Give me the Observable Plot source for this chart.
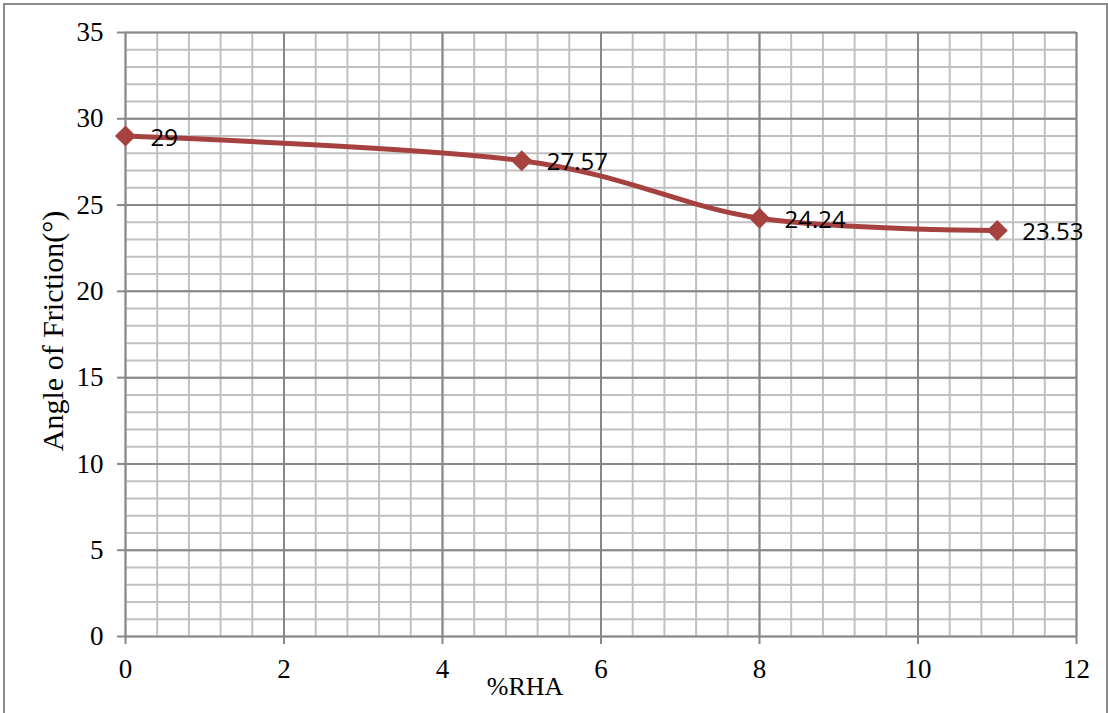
<!DOCTYPE html>
<html>
<head>
<meta charset="utf-8">
<script src="https://cdn.jsdelivr.net/npm/d3@7"></script>
<script src="https://cdn.jsdelivr.net/npm/@observablehq/plot@0.6"></script>
<style>
  body { margin: 0; background: #fff; }
  svg { display: block; }
</style>
</head>
<body>
<div id="chart"></div>
<script>
// Angle of friction against rice husk ash content
const rhaPercent = [0, 5, 8, 11];
const frictionAngle = [29, 27.57, 24.24, 23.53];
const xTickValues = [0, 2, 4, 6, 8, 10, 12];
const yTickValues = [0, 5, 10, 15, 20, 25, 30, 35];
const xLabel = "%RHA";
const yLabel = "Angle of Friction(°)";

const points = rhaPercent.map((x, i) => ({x, y: frictionAngle[i]}));

// minor grid: five divisions between x ticks, one unit steps in y
const xMinor = d3.range(31).map(i => i * 12 / 30);
const yMinor = d3.range(36);

const lineColor = "#a5423f";
const majorGrid = "#878787";
const minorGrid = "#c0c0c0";
const serif = "'Liberation Serif', 'Times New Roman', serif";

const chart = Plot.plot({
  width: 1108,
  height: 713,
  marginLeft: 125,
  marginRight: 32,
  marginTop: 32,
  marginBottom: 77,
  x: {domain: [0, 12]},
  y: {domain: [0, 35]},
  style: {fontFamily: serif, fontSize: "27px", color: "#000", background: "#fff"},
  marks: [
    Plot.gridX(xMinor, {stroke: minorGrid, strokeOpacity: 1, strokeWidth: 2}),
    Plot.gridY(yMinor, {stroke: minorGrid, strokeOpacity: 1, strokeWidth: 2}),
    Plot.gridX(xTickValues, {stroke: majorGrid, strokeOpacity: 1, strokeWidth: 2}),
    Plot.gridY(yTickValues, {stroke: majorGrid, strokeOpacity: 1, strokeWidth: 2}),
    Plot.axisX({ticks: xTickValues, tickSize: 8, tickPadding: 14, label: null, stroke: majorGrid, strokeWidth: 2, fontSize: 27, fontFamily: serif, fill: "#000"}),
    Plot.axisY({ticks: yTickValues, tickSize: 8, tickPadding: 14, label: null, stroke: majorGrid, strokeWidth: 2, fontSize: 27, fontFamily: serif, fill: "#000"}),
    Plot.line(points, {x: "x", y: "y", curve: "cardinal", stroke: lineColor, strokeWidth: 5}),
    Plot.dot(points, {x: "x", y: "y", symbol: "diamond2", r: 9.5, fill: lineColor, stroke: "none"}),
    Plot.text(points, {
      x: "x", y: "y", text: d => String(d.y),
      textAnchor: "start", dx: 25, dy: 2,
      fontFamily: "'Open Sans', 'Liberation Sans', sans-serif", fontSize: 24, fill: "#000"
    })
  ]
});

const svg = d3.select(chart);

// outer chart border
svg.insert("rect", ":first-child")
  .attr("x", 4).attr("y", 4)
  .attr("width", 1103).attr("height", 720)
  .attr("fill", "none").attr("stroke", "#8c8c8c").attr("stroke-width", 2);

// axis titles
svg.append("text")
  .attr("transform", "translate(63,331) rotate(-90)")
  .attr("text-anchor", "middle")
  .attr("font-family", serif)
  .attr("font-size", 30)
  .attr("fill", "#000")
  .text(yLabel);

svg.append("text")
  .attr("x", 525).attr("y", 695)
  .attr("text-anchor", "middle")
  .attr("font-family", serif)
  .attr("font-size", 26)
  .attr("fill", "#000")
  .text(xLabel);

document.getElementById("chart").appendChild(chart);
</script>
</body>
</html>
